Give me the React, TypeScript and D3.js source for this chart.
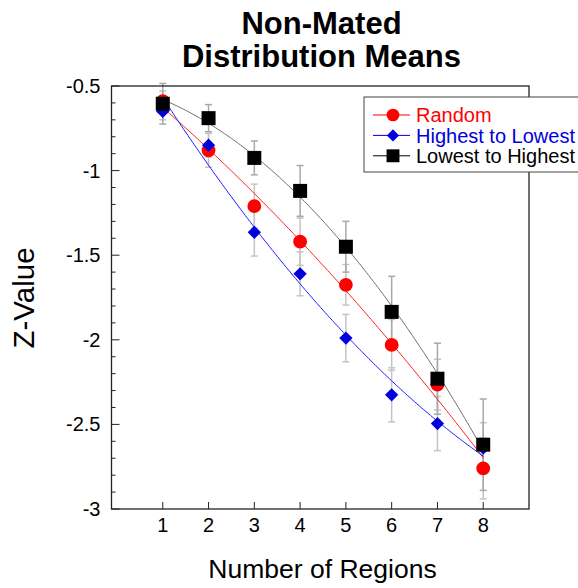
import React from 'react';
import * as d3 from 'd3';

// values
const regions = [1, 2, 3, 4, 5, 6, 7, 8];
const randomMeans = [-0.59, -0.88, -1.21, -1.42, -1.675, -2.03, -2.265, -2.76];
const randomErr = [0.06, 0.1, 0.13, 0.14, 0.12, 0.15, 0.15, 0.18];
const highLowMeans = [-0.65, -0.85, -1.365, -1.61, -1.99, -2.325, -2.495, -2.64];
const highLowErr = [0.05, 0.07, 0.14, 0.13, 0.14, 0.16, 0.16, 0.15];
const lowHighMeans = [-0.605, -0.69, -0.925, -1.12, -1.45, -1.835, -2.23, -2.62];
const lowHighErr = [0.12, 0.08, 0.1, 0.15, 0.15, 0.21, 0.21, 0.27];
const seriesNames = ['Random', 'Highest to Lowest', 'Lowest to Highest'];
const seriesColors = ['#ff0000', '#0000dd', '#000000'];
const lineColors = ['#ff2020', '#2020ff', '#707070'];
const yTicks = [-3, -2.5, -2, -1.5, -1, -0.5];

const W = 578;
const H = 588;
const font = '"Liberation Sans", Arial, sans-serif';

// least squares quadratic, like the curve fit in the original
function quadFit(xs: number[], ys: number[]) {
  const n = xs.length;
  let s1 = 0, s2 = 0, s3 = 0, s4 = 0, t0 = 0, t1 = 0, t2 = 0;
  xs.forEach((x, i) => {
    const y = ys[i];
    s1 += x; s2 += x * x; s3 += x ** 3; s4 += x ** 4;
    t0 += y; t1 += x * y; t2 += x * x * y;
  });
  const m = [
    [n, s1, s2, t0],
    [s1, s2, s3, t1],
    [s2, s3, s4, t2],
  ];
  for (let c = 0; c < 3; c++) {
    for (let r = c + 1; r < 3; r++) {
      const f = m[r][c] / m[c][c];
      for (let k = c; k < 4; k++) m[r][k] -= f * m[c][k];
    }
  }
  const b = [0, 0, 0];
  for (let r = 2; r >= 0; r--) {
    let s = m[r][3];
    for (let k = r + 1; k < 3; k++) s -= m[r][k] * b[k];
    b[r] = s / m[r][r];
  }
  return (x: number) => b[0] + b[1] * x + b[2] * x * x;
}

export default function App() {
  const x = d3.scaleLinear().domain([-0.12, 9]).range([111.5, 529]);
  const y = d3.scaleLinear().domain([-3, -0.5]).range([509, 86]);

  // diamond = square turned 45deg
  const series = [
    { means: randomMeans, err: randomErr, shape: d3.symbolCircle, size: 150, rot: 0 },
    { means: highLowMeans, err: highLowErr, shape: d3.symbolSquare, size: 88, rot: 45 },
    { means: lowHighMeans, err: lowHighErr, shape: d3.symbolSquare, size: 196, rot: 0 },
  ];

  const line = d3.line<[number, number]>().x(d => x(d[0])).y(d => y(d[1]));
  const samples = d3.range(regions[0], regions[regions.length - 1] + 0.001, 0.05);

  const minorTicks = d3.range(-3, -0.5, 0.1).filter(v => Math.abs(v * 2 - Math.round(v * 2)) > 0.01);
  const [x0, x1] = x.range();
  const [y0, y1] = y.range();

  return (
    <div style={{ position: 'absolute', left: 0, top: 0 }}>
      <svg width={W} height={H} style={{ display: 'block', background: '#fff' }} fontFamily={font}>
        <text x={321.5} y={33.5} textAnchor="middle" fontSize={31} fontWeight="bold">Non-Mated</text>
        <text x={321.5} y={66.5} textAnchor="middle" fontSize={31} fontWeight="bold">Distribution Means</text>

        {/* error bars */}
        {series.map((s, si) => (
          <g key={'e' + si} stroke={si === 2 ? '#a8a8a8' : '#c4c4c4'} strokeWidth={1.5}>
            {regions.map((r, i) => {
              const cx = x(r);
              const top = y(s.means[i] + s.err[i]);
              const bot = y(s.means[i] - s.err[i]);
              return (
                <g key={i}>
                  <line x1={cx} x2={cx} y1={top} y2={bot} />
                  <line x1={cx - 3.5} x2={cx + 3.5} y1={top} y2={top} />
                  <line x1={cx - 3.5} x2={cx + 3.5} y1={bot} y2={bot} />
                </g>
              );
            })}
          </g>
        ))}

        {/* fit curves and markers */}
        {series.map((s, si) => {
          const fit = quadFit(regions, s.means);
          const pts = samples.map(v => [v, fit(v)] as [number, number]);
          const sym = d3.symbol().type(s.shape).size(s.size)();
          return (
            <g key={'s' + si}>
              <path d={line(pts) || ''} fill="none" stroke={lineColors[si]} strokeWidth={1} />
              {regions.map((r, i) => (
                <path key={i} d={sym || ''} transform={`translate(${x(r)},${y(s.means[i])}) rotate(${s.rot})`} fill={seriesColors[si]} />
              ))}
            </g>
          );
        })}

        {/* frame */}
        <rect x={x0} y={y1} width={x1 - x0} height={y0 - y1} fill="none" stroke="#222" strokeWidth={1.3} />

        {/* y ticks */}
        {yTicks.map(t => (
          <g key={'y' + t}>
            <line x1={x0} x2={x0 + 8} y1={y(t)} y2={y(t)} stroke="#222" />
            <text x={x0 - 11} y={y(t)} dy="0.35em" textAnchor="end" fontSize={20}>{t}</text>
          </g>
        ))}
        {minorTicks.map(t => (
          <line key={'m' + t} x1={x0} x2={x0 + 4} y1={y(t)} y2={y(t)} stroke="#222" />
        ))}

        {/* x ticks */}
        {regions.map(r => (
          <g key={'x' + r}>
            <line x1={x(r)} x2={x(r)} y1={y0} y2={y0 - 7} stroke="#222" />
            <text x={x(r)} y={532} textAnchor="middle" fontSize={20}>{r}</text>
          </g>
        ))}

        <text x={322.5} y={578} textAnchor="middle" fontSize={26.5}>Number of Regions</text>
        <text transform={`translate(34,298) rotate(-90)`} textAnchor="middle" fontSize={29.5}>Z-Value</text>

        {/* legend */}
        <g>
          <rect x={364} y={97} width={240} height={75} fill="#fff" stroke="#444" strokeWidth={1} />
          {seriesNames.map((name, i) => {
            const ly = 115 + i * 20.4;
            const sym = d3.symbol().type(series[i].shape).size(series[i].size * 0.85)();
            return (
              <g key={name}>
                <line x1={373} x2={410} y1={ly} y2={ly} stroke={seriesColors[i]} strokeWidth={1} />
                <path d={sym || ''} transform={`translate(393,${ly}) rotate(${series[i].rot})`} fill={seriesColors[i]} />
                <text x={416} y={ly} dy="0.36em" fontSize={20} fill={seriesColors[i]}>{name}</text>
              </g>
            );
          })}
        </g>
      </svg>
    </div>
  );
}
